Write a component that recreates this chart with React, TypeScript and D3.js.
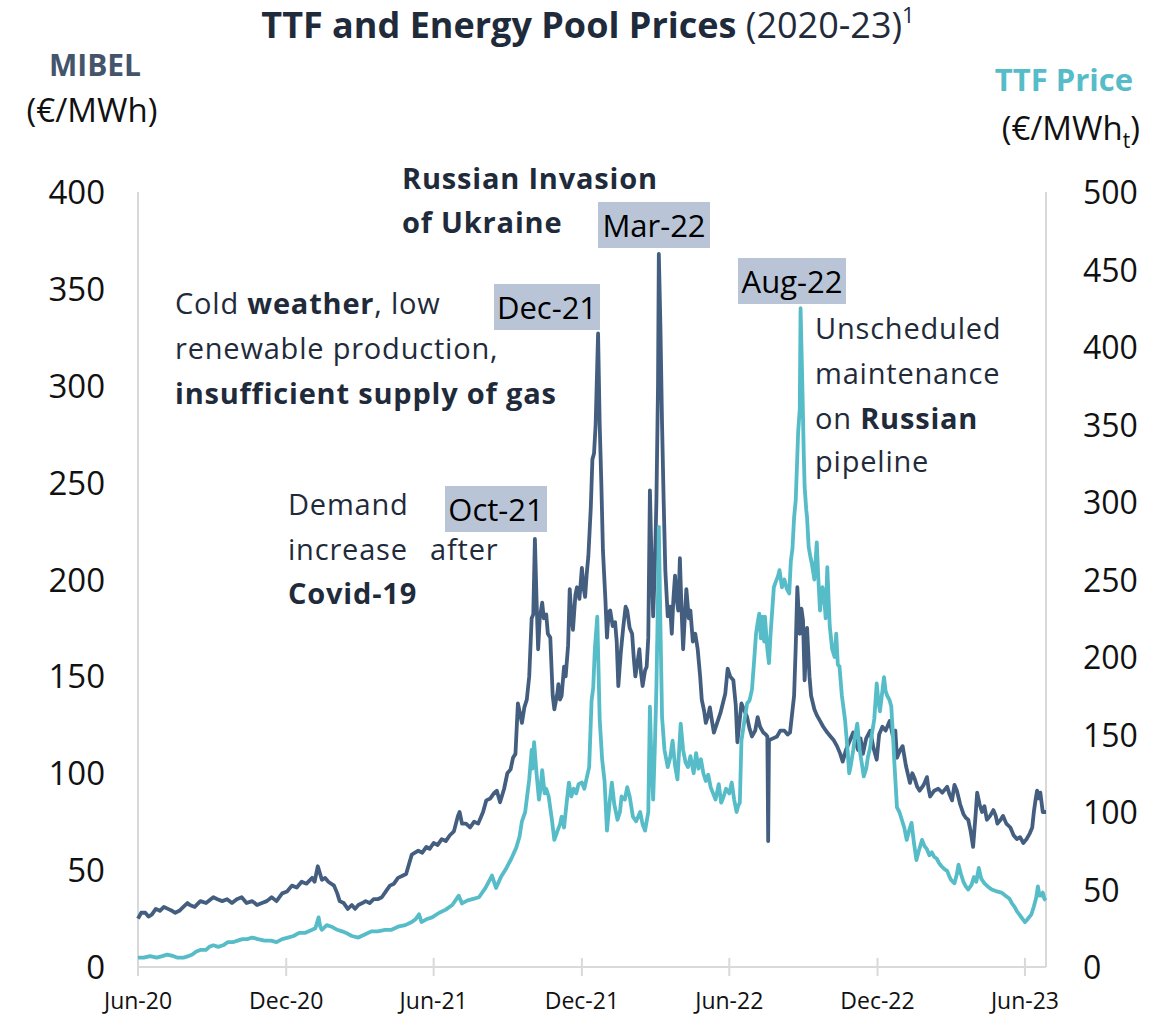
import React from 'react';
import * as d3 from 'd3';

// MIBEL pool price (€/MWh)
const mibelSeries: [string, number][] = [
  ['2020-06-01', 25], ['2020-06-05', 28], ['2020-06-10', 28], ['2020-06-14', 26], ['2020-06-18', 27],
  ['2020-06-23', 30], ['2020-06-28', 29], ['2020-07-03', 31], ['2020-07-08', 30], ['2020-07-13', 29],
  ['2020-07-17', 28], ['2020-07-22', 29], ['2020-07-27', 31], ['2020-08-01', 33], ['2020-08-04', 32],
  ['2020-08-10', 31], ['2020-08-17', 34], ['2020-08-24', 33], ['2020-09-02', 36], ['2020-09-07', 35],
  ['2020-09-13', 34], ['2020-09-19', 35], ['2020-09-25', 33], ['2020-10-01', 35], ['2020-10-07', 36],
  ['2020-10-13', 33], ['2020-10-20', 34], ['2020-10-26', 32], ['2020-11-01', 33], ['2020-11-07', 34],
  ['2020-11-13', 36], ['2020-11-19', 34], ['2020-11-26', 38], ['2020-12-02', 39], ['2020-12-08', 42],
  ['2020-12-14', 41], ['2020-12-20', 44], ['2020-12-26', 43], ['2021-01-02', 46], ['2021-01-05', 44],
  ['2021-01-09', 52], ['2021-01-14', 45], ['2021-01-18', 46], ['2021-01-22', 44], ['2021-01-29', 42],
  ['2021-02-02', 38], ['2021-02-05', 34], ['2021-02-10', 33], ['2021-02-15', 30], ['2021-02-20', 32],
  ['2021-02-24', 30], ['2021-02-28', 32], ['2021-03-05', 33], ['2021-03-09', 34], ['2021-03-14', 33],
  ['2021-03-19', 35], ['2021-03-24', 35], ['2021-03-29', 36], ['2021-04-03', 39], ['2021-04-08', 42],
  ['2021-04-13', 43], ['2021-04-18', 46], ['2021-04-23', 47], ['2021-04-28', 48], ['2021-05-05', 58],
  ['2021-05-09', 59], ['2021-05-13', 60], ['2021-05-18', 59], ['2021-05-23', 62], ['2021-05-27', 61],
  ['2021-06-01', 64], ['2021-06-06', 63], ['2021-06-11', 66], ['2021-06-16', 65], ['2021-06-21', 68],
  ['2021-06-26', 70], ['2021-07-01', 78], ['2021-07-03', 80], ['2021-07-06', 74], ['2021-07-11', 74],
  ['2021-07-16', 72], ['2021-07-21', 75], ['2021-07-26', 74], ['2021-08-01', 80], ['2021-08-05', 86],
  ['2021-08-10', 87], ['2021-08-15', 90], ['2021-08-18', 91], ['2021-08-22', 85], ['2021-08-27', 92],
  ['2021-08-31', 100], ['2021-09-04', 102], ['2021-09-07', 108], ['2021-09-10', 110], ['2021-09-13', 136],
  ['2021-09-15', 132], ['2021-09-18', 126], ['2021-09-21', 134], ['2021-09-24', 138], ['2021-09-27', 150],
  ['2021-09-30', 180], ['2021-10-02', 182], ['2021-10-04', 221], ['2021-10-06', 190], ['2021-10-08', 164],
  ['2021-10-10', 180], ['2021-10-13', 188], ['2021-10-15', 180], ['2021-10-18', 182], ['2021-10-20', 172],
  ['2021-10-23', 170], ['2021-10-26', 140], ['2021-10-28', 133], ['2021-11-01', 142], ['2021-11-02', 146],
  ['2021-11-04', 138], ['2021-11-06', 140], ['2021-11-09', 155], ['2021-11-11', 150], ['2021-11-14', 166],
  ['2021-11-16', 195], ['2021-11-18', 182], ['2021-11-20', 174], ['2021-11-23', 192], ['2021-11-25', 196],
  ['2021-11-28', 190], ['2021-12-01', 206], ['2021-12-03', 196], ['2021-12-05', 191], ['2021-12-07', 203],
  ['2021-12-09', 212], ['2021-12-12', 237], ['2021-12-14', 262], ['2021-12-16', 265], ['2021-12-18', 280],
  ['2021-12-21', 327], ['2021-12-23', 280], ['2021-12-25', 250], ['2021-12-27', 215], ['2021-12-30', 190],
  ['2022-01-01', 170], ['2022-01-03', 183], ['2022-01-05', 184], ['2022-01-08', 176], ['2022-01-11', 178],
  ['2022-01-13', 168], ['2022-01-15', 145], ['2022-01-18', 162], ['2022-01-21', 175], ['2022-01-24', 186],
  ['2022-01-26', 184], ['2022-01-29', 175], ['2022-02-01', 172], ['2022-02-03', 160], ['2022-02-05', 150],
  ['2022-02-08', 158], ['2022-02-10', 164], ['2022-02-12', 152], ['2022-02-14', 145], ['2022-02-17', 153],
  ['2022-02-19', 155], ['2022-02-21', 170], ['2022-02-23', 246], ['2022-02-25', 210], ['2022-02-27', 181],
  ['2022-03-01', 205], ['2022-03-03', 240], ['2022-03-05', 300], ['2022-03-06', 368], ['2022-03-08', 330],
  ['2022-03-10', 280], ['2022-03-12', 240], ['2022-03-14', 205], ['2022-03-17', 181], ['2022-03-20', 186],
  ['2022-03-22', 172], ['2022-03-24', 190], ['2022-03-26', 202], ['2022-03-28', 190], ['2022-03-30', 184],
  ['2022-04-01', 211], ['2022-04-03', 185], ['2022-04-05', 164], ['2022-04-07', 180], ['2022-04-09', 195],
  ['2022-04-12', 180], ['2022-04-14', 184], ['2022-04-17', 168], ['2022-04-20', 172], ['2022-04-23', 164],
  ['2022-04-26', 150], ['2022-04-28', 138], ['2022-05-01', 132], ['2022-05-03', 126], ['2022-05-06', 130],
  ['2022-05-08', 134], ['2022-05-11', 126], ['2022-05-13', 121], ['2022-05-17', 126], ['2022-05-21', 131],
  ['2022-05-24', 136], ['2022-05-27', 141], ['2022-05-30', 154], ['2022-06-02', 150], ['2022-06-06', 148],
  ['2022-06-09', 135], ['2022-06-11', 116], ['2022-06-14', 128], ['2022-06-16', 136], ['2022-06-20', 132],
  ['2022-06-23', 129], ['2022-06-26', 123], ['2022-06-29', 119], ['2022-07-03', 122], ['2022-07-06', 129],
  ['2022-07-09', 124], ['2022-07-13', 121], ['2022-07-16', 120], ['2022-07-18', 119], ['2022-07-19', 65],
  ['2022-07-20', 117], ['2022-07-25', 118], ['2022-07-30', 119], ['2022-08-03', 122], ['2022-08-08', 122],
  ['2022-08-12', 120], ['2022-08-15', 121], ['2022-08-20', 140], ['2022-08-22', 165], ['2022-08-24', 196],
  ['2022-08-26', 180], ['2022-08-27', 172], ['2022-08-29', 185], ['2022-08-31', 179], ['2022-09-02', 148],
  ['2022-09-05', 175], ['2022-09-08', 150], ['2022-09-10', 140], ['2022-09-14', 133], ['2022-09-17', 130],
  ['2022-09-21', 127], ['2022-09-25', 124], ['2022-09-30', 121], ['2022-10-04', 119], ['2022-10-08', 117],
  ['2022-10-12', 114], ['2022-10-16', 110], ['2022-10-19', 106], ['2022-10-23', 112], ['2022-10-26', 115],
  ['2022-11-01', 121], ['2022-11-04', 116], ['2022-11-07', 112], ['2022-11-10', 118], ['2022-11-13', 110],
  ['2022-11-17', 118], ['2022-11-22', 122], ['2022-11-26', 113], ['2022-11-30', 107], ['2022-12-03', 120],
  ['2022-12-07', 124], ['2022-12-11', 122], ['2022-12-16', 127], ['2022-12-20', 119], ['2022-12-23', 122],
  ['2022-12-25', 108], ['2022-12-29', 112], ['2023-01-01', 114], ['2023-01-05', 104], ['2023-01-10', 95],
  ['2023-01-13', 100], ['2023-01-16', 97], ['2023-01-19', 93], ['2023-01-22', 91], ['2023-01-27', 94],
  ['2023-01-31', 98], ['2023-02-02', 92], ['2023-02-04', 88], ['2023-02-09', 91], ['2023-02-14', 92],
  ['2023-02-19', 90], ['2023-02-25', 93], ['2023-02-28', 89], ['2023-03-03', 86], ['2023-03-06', 94],
  ['2023-03-09', 91], ['2023-03-13', 84], ['2023-03-17', 79], ['2023-03-20', 77], ['2023-03-23', 76],
  ['2023-03-26', 70], ['2023-03-29', 62], ['2023-04-01', 78], ['2023-04-03', 90], ['2023-04-06', 84],
  ['2023-04-09', 80], ['2023-04-12', 83], ['2023-04-15', 76], ['2023-04-19', 78], ['2023-04-23', 81],
  ['2023-04-26', 78], ['2023-04-28', 74], ['2023-05-02', 76], ['2023-05-05', 78], ['2023-05-09', 74],
  ['2023-05-14', 72], ['2023-05-18', 68], ['2023-05-22', 66], ['2023-05-26', 67], ['2023-05-30', 64],
  ['2023-06-03', 66], ['2023-06-07', 69], ['2023-06-10', 72], ['2023-06-12', 80], ['2023-06-14', 86],
  ['2023-06-16', 91], ['2023-06-18', 87], ['2023-06-20', 90], ['2023-06-23', 80], ['2023-06-27', 80],
];

// TTF gas price (€/MWh_t)
const ttfSeries: [string, number][] = [
  ['2020-06-01', 6], ['2020-06-08', 6], ['2020-06-16', 7], ['2020-06-24', 6], ['2020-07-01', 7],
  ['2020-07-07', 8], ['2020-07-15', 7], ['2020-07-20', 6], ['2020-07-27', 6], ['2020-08-02', 7],
  ['2020-08-07', 8], ['2020-08-12', 10], ['2020-08-17', 11], ['2020-08-24', 11], ['2020-08-28', 13],
  ['2020-09-02', 14], ['2020-09-08', 13], ['2020-09-14', 14], ['2020-09-20', 16], ['2020-09-26', 16],
  ['2020-10-02', 17], ['2020-10-08', 18], ['2020-10-14', 18], ['2020-10-20', 19], ['2020-10-27', 18],
  ['2020-11-04', 17], ['2020-11-12', 17], ['2020-11-19', 16], ['2020-11-26', 18], ['2020-12-03', 19],
  ['2020-12-10', 20], ['2020-12-17', 22], ['2020-12-24', 22], ['2021-01-02', 24], ['2021-01-06', 25],
  ['2021-01-10', 32], ['2021-01-12', 26], ['2021-01-14', 24], ['2021-01-20', 27], ['2021-01-26', 26],
  ['2021-02-02', 24], ['2021-02-08', 23], ['2021-02-13', 22], ['2021-02-20', 20], ['2021-02-28', 19],
  ['2021-03-08', 21], ['2021-03-16', 23], ['2021-03-24', 23], ['2021-04-02', 24], ['2021-04-10', 24],
  ['2021-04-18', 26], ['2021-04-27', 27], ['2021-05-05', 29], ['2021-05-10', 31], ['2021-05-14', 34],
  ['2021-05-17', 29], ['2021-05-24', 31], ['2021-05-30', 32], ['2021-06-08', 35], ['2021-06-16', 37],
  ['2021-06-24', 40], ['2021-07-02', 46], ['2021-07-06', 41], ['2021-07-13', 43], ['2021-07-20', 44],
  ['2021-07-27', 45], ['2021-08-04', 51], ['2021-08-12', 59], ['2021-08-17', 51], ['2021-08-23', 58],
  ['2021-08-29', 63], ['2021-09-05', 70], ['2021-09-11', 77], ['2021-09-15', 84], ['2021-09-18', 94],
  ['2021-09-22', 100], ['2021-09-27', 121], ['2021-09-30', 140], ['2021-10-01', 128], ['2021-10-03', 145],
  ['2021-10-06', 125], ['2021-10-09', 108], ['2021-10-11', 115], ['2021-10-13', 127], ['2021-10-16', 112],
  ['2021-10-18', 115], ['2021-10-21', 110], ['2021-10-25', 95], ['2021-10-28', 82], ['2021-11-01', 88],
  ['2021-11-04', 92], ['2021-11-06', 97], ['2021-11-09', 90], ['2021-11-12', 105], ['2021-11-15', 119],
  ['2021-11-18', 110], ['2021-11-21', 115], ['2021-11-24', 112], ['2021-11-27', 118], ['2021-12-01', 119],
  ['2021-12-04', 115], ['2021-12-07', 122], ['2021-12-10', 129], ['2021-12-13', 172], ['2021-12-15', 180],
  ['2021-12-17', 205], ['2021-12-20', 226], ['2021-12-23', 160], ['2021-12-26', 134], ['2021-12-29', 120],
  ['2022-01-01', 88], ['2022-01-04', 105], ['2022-01-07', 119], ['2022-01-10', 105], ['2022-01-14', 95],
  ['2022-01-17', 100], ['2022-01-19', 110], ['2022-01-23', 108], ['2022-01-26', 116], ['2022-01-29', 110],
  ['2022-02-02', 97], ['2022-02-06', 94], ['2022-02-11', 100], ['2022-02-14', 92], ['2022-02-17', 88],
  ['2022-02-21', 100], ['2022-02-23', 168], ['2022-02-25', 130], ['2022-02-27', 108], ['2022-03-01', 140],
  ['2022-03-03', 180], ['2022-03-05', 240], ['2022-03-06', 284], ['2022-03-08', 220], ['2022-03-10', 161],
  ['2022-03-13', 140], ['2022-03-17', 129], ['2022-03-20', 135], ['2022-03-23', 146], ['2022-03-26', 130],
  ['2022-03-29', 121], ['2022-04-02', 157], ['2022-04-05', 140], ['2022-04-08', 132], ['2022-04-11', 129],
  ['2022-04-14', 136], ['2022-04-18', 125], ['2022-04-21', 138], ['2022-04-24', 128], ['2022-04-27', 134],
  ['2022-04-30', 125], ['2022-05-03', 120], ['2022-05-06', 124], ['2022-05-09', 116], ['2022-05-12', 112],
  ['2022-05-15', 108], ['2022-05-19', 118], ['2022-05-22', 106], ['2022-05-25', 110], ['2022-05-28', 115],
  ['2022-06-01', 112], ['2022-06-04', 119], ['2022-06-07', 108], ['2022-06-10', 100], ['2022-06-12', 104],
  ['2022-06-14', 106], ['2022-06-16', 146], ['2022-06-20', 160], ['2022-06-23', 170], ['2022-06-26', 172],
  ['2022-06-29', 179], ['2022-07-02', 200], ['2022-07-04', 215], ['2022-07-06', 222], ['2022-07-08', 228],
  ['2022-07-10', 212], ['2022-07-12', 226], ['2022-07-14', 210], ['2022-07-15', 226], ['2022-07-18', 205],
  ['2022-07-20', 196], ['2022-07-22', 215], ['2022-07-24', 230], ['2022-07-26', 245], ['2022-07-28', 248],
  ['2022-07-31', 252], ['2022-08-02', 256], ['2022-08-05', 245], ['2022-08-08', 250], ['2022-08-11', 244],
  ['2022-08-14', 241], ['2022-08-16', 262], ['2022-08-18', 270], ['2022-08-20', 290], ['2022-08-22', 301],
  ['2022-08-24', 330], ['2022-08-25', 345], ['2022-08-27', 360], ['2022-08-28', 425], ['2022-08-30', 380],
  ['2022-09-01', 330], ['2022-09-02', 310], ['2022-09-04', 295], ['2022-09-05', 290], ['2022-09-07', 271],
  ['2022-09-09', 265], ['2022-09-11', 260], ['2022-09-14', 250], ['2022-09-17', 274], ['2022-09-19', 250],
  ['2022-09-21', 230], ['2022-09-24', 245], ['2022-09-26', 240], ['2022-09-28', 225], ['2022-09-30', 258],
  ['2022-10-03', 220], ['2022-10-06', 205], ['2022-10-09', 200], ['2022-10-11', 215], ['2022-10-13', 195],
  ['2022-10-15', 194], ['2022-10-18', 175], ['2022-10-22', 159], ['2022-10-25', 140], ['2022-10-27', 125],
  ['2022-10-29', 130], ['2022-11-01', 140], ['2022-11-03', 148], ['2022-11-06', 157], ['2022-11-09', 140],
  ['2022-11-12', 130], ['2022-11-14', 123], ['2022-11-17', 128], ['2022-11-19', 135], ['2022-11-22', 142],
  ['2022-11-24', 150], ['2022-11-27', 160], ['2022-11-30', 183], ['2022-12-02', 172], ['2022-12-04', 165],
  ['2022-12-07', 178], ['2022-12-09', 187], ['2022-12-11', 178], ['2022-12-13', 175], ['2022-12-16', 172],
  ['2022-12-18', 168], ['2022-12-20', 150], ['2022-12-22', 130], ['2022-12-25', 103], ['2022-12-28', 100],
  ['2022-12-31', 95], ['2023-01-03', 90], ['2023-01-06', 82], ['2023-01-09', 88], ['2023-01-12', 93],
  ['2023-01-15', 80], ['2023-01-18', 69], ['2023-01-21', 75], ['2023-01-25', 82], ['2023-01-28', 78],
  ['2023-01-31', 76], ['2023-02-03', 72], ['2023-02-06', 74], ['2023-02-09', 71], ['2023-02-12', 70],
  ['2023-02-15', 67], ['2023-02-18', 65], ['2023-02-22', 63], ['2023-02-25', 62], ['2023-02-28', 58],
  ['2023-03-02', 56], ['2023-03-06', 54], ['2023-03-09', 60], ['2023-03-11', 66], ['2023-03-14', 60],
  ['2023-03-17', 55], ['2023-03-20', 52], ['2023-03-23', 50], ['2023-03-27', 53], ['2023-03-30', 58],
  ['2023-04-02', 55], ['2023-04-05', 64], ['2023-04-08', 57], ['2023-04-12', 54], ['2023-04-16', 52],
  ['2023-04-21', 50], ['2023-04-26', 49], ['2023-05-03', 48], ['2023-05-08', 46], ['2023-05-13', 44],
  ['2023-05-16', 41], ['2023-05-19', 39], ['2023-05-22', 36], ['2023-05-25', 34], ['2023-05-29', 31],
  ['2023-06-01', 29], ['2023-06-03', 30], ['2023-06-06', 32], ['2023-06-09', 34], ['2023-06-12', 39],
  ['2023-06-15', 45], ['2023-06-17', 52], ['2023-06-19', 46], ['2023-06-21', 46], ['2023-06-23', 48],
  ['2023-06-25', 44], ['2023-06-27', 43],
];

const xTickDates = ['2020-06-01', '2020-12-01', '2021-06-01', '2021-12-01', '2022-06-01', '2022-12-01', '2023-06-01'];
const leftTicks = [0, 50, 100, 150, 200, 250, 300, 350, 400];
const rightTicks = [0, 50, 100, 150, 200, 250, 300, 350, 400, 450, 500];

const parse = d3.timeParse('%Y-%m-%d');
const fmt = d3.timeFormat('%b-%y');

const W = 1160;
const H = 1019;
const FONT = "'Open Sans', 'Noto Sans', sans-serif";
const MIBEL_C = '#445e80';
const TTF_C = '#56bcc8';
const TEXT_C = '#1f2b3b';
const BOX_C = '#b9c5d7';
const AXIS_C = '#d9d9d9';

const App = () => {
  const x = d3.scaleTime()
    .domain([parse('2020-06-01') as Date, parse('2023-06-27') as Date])
    .range([138, 1046]);
  const yL = d3.scaleLinear().domain([0, 400]).range([967, 192]);
  const yR = d3.scaleLinear().domain([0, 500]).range([967, 192]);

  const lineL = d3.line<[string, number]>()
    .x(d => x(parse(d[0]) as Date))
    .y(d => yL(d[1]));
  const lineR = d3.line<[string, number]>()
    .x(d => x(parse(d[0]) as Date))
    .y(d => yR(d[1]));

  const [x0, x1] = x.range();

  // highlighted month labels
  const boxes = [
    { label: 'Mar-22', x: 598, y: 202, w: 112 },
    { label: 'Dec-21', x: 494, y: 284, w: 106 },
    { label: 'Aug-22', x: 738, y: 258, w: 108 },
    { label: 'Oct-21', x: 445, y: 486, w: 102 },
  ];

  return (
    <svg width={W} height={H} style={{ position: 'absolute', left: 0, top: 0, background: '#fff' }} fontFamily={FONT}>
      {/* title */}
      <text x={588} y={38} textAnchor="middle" fontSize={36} fill={TEXT_C}>
        <tspan fontWeight="bold">TTF and Energy Pool Prices</tspan>
        <tspan> (2020-23)</tspan>
        <tspan fontSize={22} dy={-15}>1</tspan>
      </text>

      {/* axis titles */}
      <text x={95} y={76} textAnchor="middle" fontSize={30} fontWeight="bold" fill="#44546a">MIBEL</text>
      <text x={92} y={122} textAnchor="middle" fontSize={33} fill="#111">(€/MWh)</text>
      <text x={1133} y={91} textAnchor="end" fontSize={31} fontWeight="bold" fill={TTF_C}>TTF Price</text>
      <text x={1140} y={140} textAnchor="end" fontSize={33} fill="#111">
        <tspan>(€/MWh</tspan>
        <tspan fontSize={21} dy={8}>t</tspan>
        <tspan dy={-8}>)</tspan>
      </text>

      {/* frame */}
      <line x1={x0} x2={x0} y1={192} y2={967} stroke={AXIS_C} strokeWidth={2} />
      <line x1={x1} x2={x1} y1={192} y2={967} stroke={AXIS_C} strokeWidth={2} />
      <line x1={x0} x2={x1} y1={967} y2={967} stroke={AXIS_C} strokeWidth={2} />

      {leftTicks.map(t => (
        <text key={'l' + t} x={105} y={yL(t) + 12} textAnchor="end" fontSize={33} fill="#111">{t}</text>
      ))}
      {rightTicks.map(t => (
        <text key={'r' + t} x={1083} y={yR(t) + 12} textAnchor="start" fontSize={32} fill="#111">{t}</text>
      ))}
      {xTickDates.map(s => {
        const d = parse(s) as Date;
        const px = x(d);
        return (
          <g key={s}>
            <line x1={px} x2={px} y1={958} y2={976} stroke={AXIS_C} strokeWidth={2} />
            <text x={px} y={1009} textAnchor="middle" fontSize={23} fill="#111">{fmt(d)}</text>
          </g>
        );
      })}

      {/* series */}
      <path d={lineL(mibelSeries) || ''} fill="none" stroke={MIBEL_C} strokeWidth={3.8} strokeLinejoin="round" />
      <path d={lineR(ttfSeries) || ''} fill="none" stroke={TTF_C} strokeWidth={3.8} strokeLinejoin="round" />

      {/* annotations */}
      <g fill={TEXT_C} fontSize={29} letterSpacing={0.8}>
        <text x={402} y={189} fontWeight="bold">Russian Invasion</text>
        <text x={402} y={233} fontWeight="bold">of Ukraine</text>

        <text x={175} y={314}>Cold <tspan fontWeight="bold">weather</tspan>, low</text>
        <text x={175} y={359}>renewable production,</text>
        <text x={175} y={404} fontWeight="bold">insufficient supply of gas</text>

        <text x={288} y={515}>Demand</text>
        <text x={288} y={560}><tspan>increase</tspan><tspan dx={14}> after</tspan></text>
        <text x={288} y={604} fontWeight="bold">Covid-19</text>

        <text x={815} y={339}>Unscheduled</text>
        <text x={815} y={384}>maintenance</text>
        <text x={815} y={429}>on <tspan fontWeight="bold">Russian</tspan></text>
        <text x={815} y={472}>pipeline</text>
      </g>

      {boxes.map(b => (
        <g key={b.label}>
          <rect x={b.x} y={b.y} width={b.w} height={46} fill={BOX_C} />
          <text x={b.x + b.w / 2} y={b.y + 35} textAnchor="middle" fontSize={31} fill="#000">{b.label}</text>
        </g>
      ))}
    </svg>
  );
};

export default App;
